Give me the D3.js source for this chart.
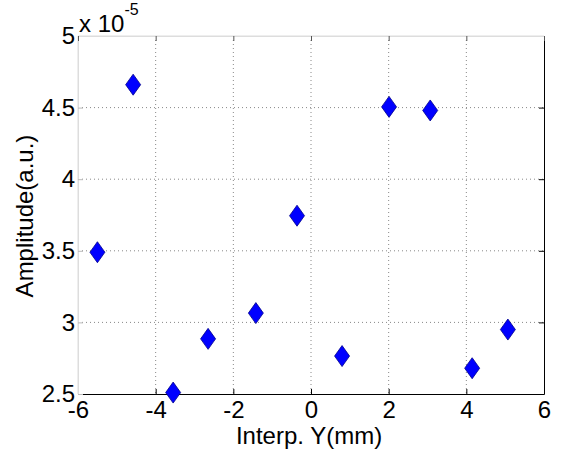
<!DOCTYPE html>
<html><head><meta charset="utf-8">
<script src="https://cdn.jsdelivr.net/npm/d3@7"></script>
<style>body{margin:0;background:#fff}text{font-family:"Liberation Sans",Arial,sans-serif}</style>
</head><body>
<script>
const xValues = [-5.5, -4.58, -3.55, -2.65, -1.42, -0.36, 0.8, 2.01, 3.07, 4.15, 5.07];
const yValues = [3.49, 4.66, 2.51, 2.885, 3.065, 3.745, 2.765, 4.505, 4.48, 2.68, 2.95];
const xTicks = [-6, -4, -2, 0, 2, 4, 6];
const yTicks = [2.5, 3, 3.5, 4, 4.5, 5];
const xLabel = "Interp. Y(mm)";
const yLabel = "Amplitude(a.u.)";

const W = 566, H = 451;
const L = 78, R = 544, T = 36, B = 394;
const svg = d3.select("body").append("svg").attr("width", W).attr("height", H);
const x = d3.scaleLinear().domain([-6, 6]).range([L, R]);
const y = d3.scaleLinear().domain([2.5, 5]).range([B, T]);

// grid
const g = svg.append("g");
g.selectAll(".gx").data(xTicks.slice(1, -1)).join("line")
  .attr("x1", d => x(d)).attr("x2", d => x(d)).attr("y1", T).attr("y2", B)
  .attr("stroke", "#888").attr("stroke-width", 1).attr("stroke-dasharray", "1,3");
g.selectAll(".gy").data(yTicks.slice(1, -1)).join("line")
  .attr("y1", d => y(d)).attr("y2", d => y(d)).attr("x1", L).attr("x2", R)
  .attr("stroke", "#888").attr("stroke-width", 1).attr("stroke-dasharray", "1,3");

// box: top and left light gray, bottom/right black
svg.append("line").attr("x1", L).attr("x2", R).attr("y1", T).attr("y2", T).attr("stroke", "#ddd");
svg.append("line").attr("x1", L).attr("x2", L).attr("y1", T).attr("y2", B).attr("stroke", "#ddd");

const xAxis = svg.append("g").attr("transform", `translate(0,${B})`)
  .call(d3.axisBottom(x).tickValues(xTicks).tickSizeInner(-5).tickSizeOuter(0).tickPadding(7).tickFormat(d3.format("d")));
xAxis.select(".domain").attr("stroke", "#000");
xAxis.selectAll("text").attr("font-size", 24).attr("fill", "#000").text(d => d < 0 ? "-" + Math.abs(d) : d);

const yAxis = svg.append("g").attr("transform", `translate(${L},0)`)
  .call(d3.axisLeft(y).tickValues(yTicks).tickSizeInner(-5).tickSizeOuter(0).tickPadding(3).tickFormat(d => String(d)));
yAxis.select(".domain").attr("stroke", "#ddd");
yAxis.selectAll(".tick line").attr("stroke", "#bbb");
yAxis.selectAll("text").attr("font-size", 24).attr("fill", "#000");

const yAxisR = svg.append("g").attr("transform", `translate(${R},0)`)
  .call(d3.axisRight(y).tickValues(yTicks).tickSizeInner(-5).tickSizeOuter(0).tickFormat(""));
yAxisR.select(".domain").attr("stroke", "#000");

const xAxisT = svg.append("g").attr("transform", `translate(0,${T})`)
  .call(d3.axisTop(x).tickValues(xTicks).tickSizeInner(-5).tickSizeOuter(0).tickFormat(""));
xAxisT.select(".domain").attr("stroke", "#ddd");
xAxisT.selectAll(".tick line").attr("stroke", "#555");

// exponent
const ex = svg.append("text").attr("x", 79).attr("y", 32).attr("font-size", 24);
ex.append("tspan").text("x 10");
ex.append("tspan").attr("dy", -17).attr("font-size", 16).text("-5");

// labels
svg.append("text").attr("x", 309).attr("y", 444).attr("text-anchor", "middle")
  .attr("font-size", 24).text(xLabel);
svg.append("text").attr("transform", `translate(33,216) rotate(-90)`)
  .attr("text-anchor", "middle").attr("font-size", 24).text(yLabel);

// markers
const data = xValues.map((v, i) => [v, yValues[i]]);
svg.append("g").selectAll("path").data(data).join("path")
  .attr("d", d => {
    const cx = x(d[0]), cy = y(d[1]), w = 7.5, h = 10.5;
    return `M${cx},${cy - h}L${cx + w},${cy}L${cx},${cy + h}L${cx - w},${cy}Z`;
  })
  .attr("fill", "#0000ff").attr("stroke", "#00008b").attr("stroke-width", 0.8);
</script>
</body></html>
